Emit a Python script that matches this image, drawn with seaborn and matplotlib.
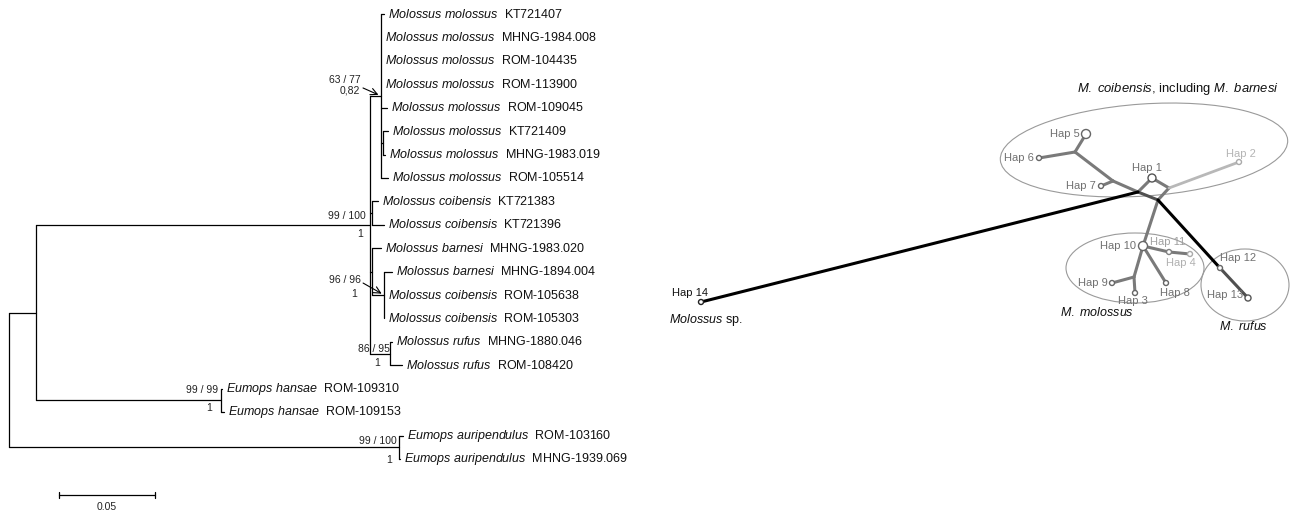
import matplotlib
matplotlib.use("Agg")
import matplotlib.pyplot as plt
from matplotlib.patches import Ellipse
import seaborn as sns
import pandas as pd
import numpy as np

# ---------------- tree data (branch lengths in substitutions/site) ----------------
node_names = ["root", "aur", "ing", "han", "molall", "mol", "mol67", "coiKT", "bar", "bar2", "ruf"]
node_parent = [None, "root", "root", "ing", "ing", "molall", "mol", "molall", "molall", "bar", "molall"]
node_branch = [0.0, 0.2030, 0.0139, 0.0962, 0.1740, 0.0057, 0.0008, 0.0010, 0.0010, 0.0063, 0.0104]

leaf_species = ["Molossus molossus"] * 8 + ["Molossus coibensis"] * 2 + ["Molossus barnesi"] * 2 \
    + ["Molossus coibensis"] * 2 + ["Molossus rufus"] * 2 + ["Eumops hansae"] * 2 + ["Eumops auripendulus"] * 2
leaf_ids = ["KT721407", "MHNG-1984.008", "ROM-104435", "ROM-113900", "ROM-109045", "KT721409",
            "MHNG-1983.019", "ROM-105514", "KT721383", "KT721396", "MHNG-1983.020", "MHNG-1894.004",
            "ROM-105638", "ROM-105303", "MHNG-1880.046", "ROM-108420", "ROM-109310", "ROM-109153",
            "ROM-103160", "MHNG-1939.069"]
leaf_parent = ["mol", "mol", "mol", "mol", "mol", "mol67", "mol67", "mol", "coiKT", "coiKT", "bar", "bar2",
               "bar2", "bar2", "ruf", "ruf", "han", "han", "aur", "aur"]
leaf_branch = [0.0016, 0.0, 0.0, 0.0, 0.0031, 0.0029, 0.0013, 0.0036, 0.0031, 0.0063, 0.0047, 0.0042,
               0.0, 0.0, 0.0010, 0.0063, 0.0007, 0.0017, 0.0021, 0.0005]

# support values: bootstrap (ML / MP) and posterior probability
support_nodes = ["mol", "molall", "bar2", "ruf", "han", "aur"]
support_boot = ["63 / 77", "99 / 100", "96 / 96", "86 / 95", "99 / 99", "99 / 100"]
support_pp = ["0,82", "1", "1", "1", "1", "1"]
scale_len = 0.05

# ---------------- haplotype network data ----------------
net_nodes = ["Hap 1", "Hap 2", "Hap 3", "Hap 4", "Hap 5", "Hap 6", "Hap 7", "Hap 8", "Hap 9", "Hap 10",
             "Hap 11", "Hap 12", "Hap 13", "Hap 14", "J56", "J7", "A", "B", "C", "D"]
net_x = [1152, 1239, 1135, 1190, 1086, 1039, 1101, 1166, 1112, 1143, 1169, 1220, 1248, 701,
         1075, 1113, 1138, 1169, 1158, 1134]
net_y = [178, 162, 293, 254, 134, 158, 186, 283, 283, 246, 252, 268, 298, 302,
         152, 181, 192, 188, 200, 277]
edge_from = ["Hap 6", "Hap 5", "J56", "Hap 7", "J7", "A", "Hap 1", "Hap 1", "B", "B", "Hap 14",
             "C", "Hap 10", "Hap 11", "Hap 10", "Hap 10", "D", "D", "C", "Hap 12"]
edge_to = ["J56", "J56", "J7", "J7", "A", "C", "A", "B", "Hap 2", "C", "A",
           "Hap 10", "Hap 11", "Hap 4", "Hap 8", "D", "Hap 9", "Hap 3", "Hap 12", "Hap 13"]
edge_kind = ["grey", "grey", "grey", "grey", "grey", "dark", "grey", "grey", "light", "grey", "black",
             "grey", "grey", "grey", "grey", "grey", "grey", "grey", "black", "dark"]

# ---------------- style ----------------
sns.set_theme(style="white")
plt.rcParams["font.family"] = ["Liberation Sans", "DejaVu Sans"]
plt.rcParams["mathtext.fontset"] = "custom"
plt.rcParams["mathtext.rm"] = "Liberation Sans"
plt.rcParams["mathtext.it"] = "Liberation Sans:italic"

PX_PER_UNIT = 1920.0
ROOT_PX = 9.3
ROW0_PX, ROW_PX = 14.0, 23.42

fig = plt.figure(figsize=(12.9, 5.13), dpi=100)
fig.patch.set_facecolor("white")

# ---------------- tree layout ----------------
ax = fig.add_axes([0, 0, 660 / 1290, 1])
ax.set_xlim(-ROOT_PX / PX_PER_UNIT, (660 - ROOT_PX) / PX_PER_UNIT)
ax.set_ylim((513 - ROW0_PX) / ROW_PX, -ROW0_PX / ROW_PX)
ax.axis("off")

nx = {"root": 0.0}
for n, p, b in zip(node_names, node_parent, node_branch):
    if p is not None:
        nx[n] = nx[p] + b
children = {n: [] for n in node_names}
for n, p in zip(node_names, node_parent):
    if p is not None:
        children[p].append(n)
for i, p in enumerate(leaf_parent):
    children[p].append(i)

ny = {}
def node_y(n):
    if isinstance(n, int):
        return float(n)
    ys = [node_y(c) for c in children[n]]
    ny[n] = (min(ys) + max(ys)) / 2
    return ny[n]
node_y("root")

rows = []
seg = 0
for n, p in zip(node_names, node_parent):
    kids = [node_y(c) for c in children[n]]
    rows += [(seg, nx[n], min(kids)), (seg, nx[n], max(kids))]
    seg += 1
    if p is not None:
        rows += [(seg, nx[p], ny[n]), (seg, nx[n], ny[n])]
        seg += 1
leaf_x = []
for i, (p, b) in enumerate(zip(leaf_parent, leaf_branch)):
    leaf_x.append(nx[p] + b)
    if b > 0:
        rows += [(seg, nx[p], i), (seg, nx[p] + b, i)]
        seg += 1
seg_df = pd.DataFrame(rows, columns=["seg", "x", "y"])
sns.lineplot(data=seg_df, x="x", y="y", units="seg", estimator=None, sort=False,
             color="black", linewidth=0.9, ax=ax, legend=False)
ax.set_xlabel("")
ax.set_ylabel("")

for i, (sp, acc) in enumerate(zip(leaf_species, leaf_ids)):
    sp_tex = sp.replace(" ", r"\ ")
    ax.annotate(rf"$\mathit{{{sp_tex}}}$  {acc}", xy=(leaf_x[i], i), xytext=(4, 0),
                textcoords="offset pixels", ha="left", va="center", fontsize=9, color="#111111")

# support labels (offsets in pixels, y up)
boot_off = [(-20, 16), (-4, 9), (-23, 15), (0, 5), (-3, 10), (-2, 6)]
pp_off = [(-21, 5), (-7, -9), (-27, 1), (-10, -9), (-9, -8), (-7, -13)]
arrow_from = {"mol": (-18, 8), "bar2": (-21, 12)}
for n, b, pp, bo, po in zip(support_nodes, support_boot, support_pp, boot_off, pp_off):
    xy = (nx[n], ny[n])
    ax.annotate(b, xy=xy, xytext=bo, textcoords="offset pixels", ha="right", va="center",
                fontsize=7.5, color="#222222")
    ax.annotate(pp, xy=xy, xytext=po, textcoords="offset pixels", ha="right", va="center",
                fontsize=7.5, color="#222222")
    if n in arrow_from:
        ax.annotate("", xy=xy, xytext=arrow_from[n], textcoords="offset pixels",
                    arrowprops=dict(arrowstyle="->", color="black", lw=0.8,
                                    shrinkA=0, shrinkB=2))

# scale bar
sb_x0 = (59 - ROOT_PX) / PX_PER_UNIT
sb_y = (495 - ROW0_PX) / ROW_PX
sb_df = pd.DataFrame({"seg": [0, 0, 1, 1, 2, 2],
                      "x": [sb_x0, sb_x0 + scale_len, sb_x0, sb_x0, sb_x0 + scale_len, sb_x0 + scale_len],
                      "y": [sb_y, sb_y, sb_y - 0.14, sb_y + 0.14, sb_y - 0.14, sb_y + 0.14]})
sns.lineplot(data=sb_df, x="x", y="y", units="seg", estimator=None, sort=False,
             color="black", linewidth=0.9, ax=ax, legend=False)
ax.set_xlabel("")
ax.set_ylabel("")
ax.text(sb_x0 + scale_len / 2, sb_y + 0.5, f"{scale_len:.2f}", ha="center", va="center",
        fontsize=7.5, color="#222222")

# ---------------- haplotype network ----------------
ax2 = fig.add_axes([640 / 1290, 0, 650 / 1290, 1])
ax2.set_xlim(640, 1290)
ax2.set_ylim(513, 0)
ax2.axis("off")

for (cx, cy, w, h, ang) in [(1144, 150, 288, 92, -4), (1135, 268, 138, 70, 0), (1245, 285, 88, 72, 0)]:
    ax2.add_patch(Ellipse((cx, cy), w, h, angle=ang, fill=False, edgecolor="#9a9a9a", lw=0.8))

pos = {n: (x, y) for n, x, y in zip(net_nodes, net_x, net_y)}
erows = []
for k, (a, b, kind) in enumerate(zip(edge_from, edge_to, edge_kind)):
    erows += [(k, pos[a][0], pos[a][1], kind), (k, pos[b][0], pos[b][1], kind)]
edge_df = pd.DataFrame(erows, columns=["edge", "x", "y", "kind"])
sns.lineplot(data=edge_df, x="x", y="y", units="edge", hue="kind", size="kind",
             palette={"grey": "#7a7a7a", "dark": "#505050", "light": "#b8b8b8", "black": "#000000"},
             sizes={"grey": 2.2, "dark": 2.2, "light": 2.0, "black": 2.2},
             estimator=None, sort=False, legend=False, ax=ax2)
ax2.set_xlabel("")
ax2.set_ylabel("")

hap_n = [n for n in net_nodes if n.startswith("Hap")]
hap_ms = {"Hap 1": 33, "Hap 5": 42, "Hap 10": 42, "Hap 13": 19}
hap_ec = {"Hap 2": "#aaaaaa", "Hap 4": "#aaaaaa", "Hap 11": "#808080", "Hap 14": "#222222",
          "Hap 1": "#555555", "Hap 13": "#555555"}
node_df = pd.DataFrame({"x": [pos[n][0] for n in hap_n], "y": [pos[n][1] for n in hap_n],
                        "ms": [hap_ms.get(n, 13) for n in hap_n]})
sns.scatterplot(data=node_df, x="x", y="y", size="ms", sizes={v: v for v in node_df.ms.unique()},
                color="white", edgecolor=[hap_ec.get(n, "#666666") for n in hap_n],
                linewidth=1.0, legend=False, ax=ax2, zorder=5)
ax2.set_xlabel("")
ax2.set_ylabel("")

lab_off = {"Hap 1": (-5, -10, "center"), "Hap 2": (2, -8, "center"), "Hap 3": (-2, 8, "center"),
           "Hap 4": (-9, 9, "center"), "Hap 5": (-6, 0, "right"), "Hap 6": (-5, 0, "right"),
           "Hap 7": (-5, 0, "right"), "Hap 8": (9, 10, "center"), "Hap 9": (-4, 0, "right"),
           "Hap 10": (-7, 0, "right"), "Hap 11": (-1, -10, "center"), "Hap 12": (0, -10, "left"),
           "Hap 13": (-5, -3, "right"), "Hap 14": (-11, -9, "center")}
lab_col = {"Hap 2": "#b4b4b4", "Hap 4": "#b0b0b0", "Hap 11": "#a0a0a0", "Hap 14": "#111111"}
for n in hap_n:
    dx, dy, ha = lab_off[n]
    ax2.text(pos[n][0] + dx, pos[n][1] + dy, n, ha=ha, va="center", fontsize=8,
             color=lab_col.get(n, "#707070"), zorder=6)

ax2.text(1077, 89, r"$\mathit{M.\ coibensis}$, including $\mathit{M.\ barnesi}$", ha="left",
         va="center", fontsize=9.4, color="#111111")
ax2.text(1060, 312, r"$\mathit{M.\ molossus}$", ha="left", va="center", fontsize=9, color="#111111")
ax2.text(1219, 327, r"$\mathit{M.\ rufus}$", ha="left", va="center", fontsize=9, color="#111111")
ax2.text(669, 320, r"$\mathit{Molossus}$ sp.", ha="left", va="center", fontsize=9, color="#111111")

fig.savefig("out.png", dpi=100, facecolor="white")
